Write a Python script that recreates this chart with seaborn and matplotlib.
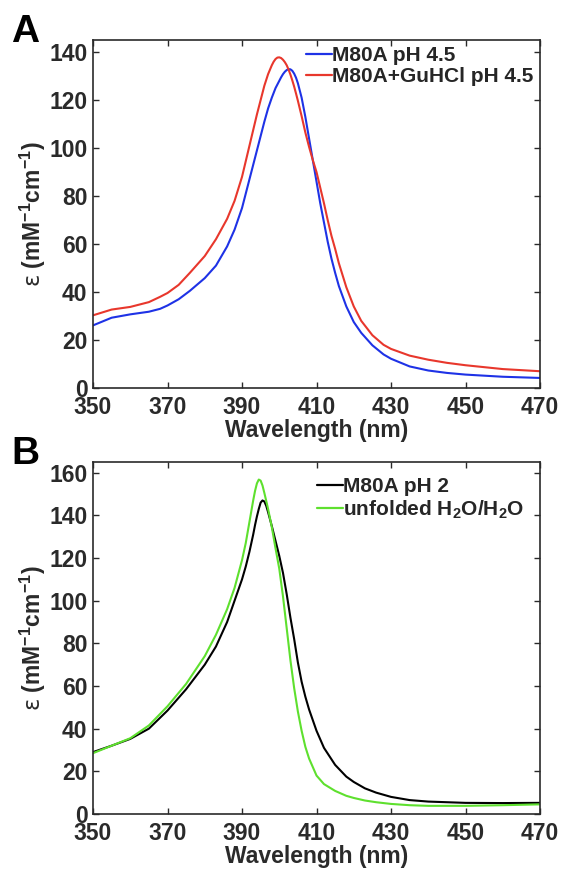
import numpy as np
import pandas as pd
import matplotlib
matplotlib.use("Agg")
import matplotlib.pyplot as plt
import seaborn as sns

# panel A: M80A at pH 4.5, with and without GuHCl
wl_a = [350, 355, 360, 365, 368, 370, 373, 376, 380, 383, 386, 388, 390, 392, 394,
        396, 397, 398, 398.5, 399, 399.5, 400, 400.5, 401, 401.5, 402, 402.5, 403,
        403.5, 404, 404.5, 405, 406, 407, 408, 409, 410, 411, 412, 413, 414, 415,
        416, 418, 420, 422, 425, 428, 430, 435, 440, 445, 450, 460, 470]
m80a_ph45 = [26.1, 29.3, 30.7, 31.8, 33.0, 34.4, 37.0, 40.5, 45.8, 51.0, 59.0, 66.0,
             75.0, 87.0, 99.0, 111.0, 116.5, 121.0, 123.0, 125.0, 126.5, 128.0, 129.5,
             130.8, 131.8, 132.5, 132.9, 132.8, 132.2, 131.0, 129.3, 127.0, 121.0,
             113.0, 104.0, 95.0, 86.0, 77.0, 69.0, 61.0, 54.0, 48.0, 42.5, 34.0, 27.5,
             23.0, 17.8, 14.0, 12.2, 9.0, 7.3, 6.3, 5.6, 4.7, 4.2]
m80a_guhcl = [30.3, 32.7, 33.8, 35.8, 38.0, 39.6, 43.0, 48.0, 55.0, 62.0, 70.5, 78.0,
              88.0, 101.0, 114.0, 126.0, 130.8, 134.5, 136.0, 137.1, 137.7, 137.8,
              137.5, 136.8, 135.8, 134.5, 132.7, 130.6, 128.2, 125.6, 122.7, 119.7,
              113.3, 106.5, 100.5, 95.0, 90.0, 83.5, 77.0, 70.0, 63.5, 58.0, 52.0,
              42.0, 34.0, 28.0, 22.0, 18.0, 16.3, 13.5, 11.8, 10.5, 9.5, 7.9, 7.0]

# panel B: M80A at pH 2 and unfolded protein
wl_b = [350, 355, 360, 365, 370, 375, 380, 383, 386, 388, 390, 391, 392, 393, 393.5,
        394, 394.5, 395, 395.5, 396, 396.5, 397, 398, 399, 400, 401, 402, 403, 404,
        405, 406, 407, 408, 410, 412, 415, 418, 420, 423, 426, 430, 435, 440, 450,
        460, 470]
m80a_ph2 = [29.0, 32.0, 35.2, 40.0, 48.5, 58.5, 70.0, 78.5, 90.0, 100.0, 110.0, 116.0,
            123.0, 131.0, 135.5, 139.5, 143.0, 146.0, 147.0, 146.5, 144.5, 141.5,
            135.0, 128.0, 121.0, 113.0, 103.0, 92.0, 82.0, 71.0, 62.0, 55.0, 49.0,
            39.0, 31.0, 23.0, 17.5, 15.0, 12.0, 10.0, 8.0, 6.5, 5.8, 5.2, 5.1, 5.2]
unfolded = [28.5, 32.0, 35.5, 41.5, 50.5, 61.0, 74.0, 84.0, 96.0, 106.0, 119.0, 127.0,
            137.0, 147.0, 151.5, 155.0, 156.8, 156.3, 154.0, 150.5, 146.8, 143.0,
            134.5, 124.5, 115.0, 102.0, 87.0, 72.0, 59.0, 48.0, 39.0, 31.5, 26.0,
            18.0, 14.0, 10.8, 8.5, 7.5, 6.3, 5.5, 4.7, 4.1, 3.8, 3.8, 4.1, 4.5]

xticks = [350, 370, 390, 410, 430, 450, 470]

sns.set_style("ticks")
plt.rcParams["font.family"] = ["Liberation Sans", "DejaVu Sans"]
plt.rcParams["font.weight"] = "bold"
plt.rcParams["mathtext.fontset"] = "custom"
plt.rcParams["mathtext.rm"] = "Liberation Sans:bold"
plt.rcParams["mathtext.bf"] = "Liberation Sans:bold"
plt.rcParams["mathtext.it"] = "DejaVu Sans:normal"

edge = "#2a2a2a"
ylab = r"$\varepsilon$ (mM$^{-1}$cm$^{-1}$)"

fig = plt.figure(figsize=(5.62, 8.71), dpi=100)
ax_a = fig.add_axes([0.1655, 0.5545, 0.7954, 0.3995])
ax_b = fig.add_axes([0.1655, 0.0655, 0.7954, 0.4040])

df_a = pd.DataFrame({"wl": wl_a * 2,
                     "eps": m80a_ph45 + m80a_guhcl,
                     "s": ["M80A pH 4.5"] * len(wl_a) + ["M80A+GuHCl pH 4.5"] * len(wl_a)})
df_b = pd.DataFrame({"wl": wl_b * 2,
                     "eps": m80a_ph2 + unfolded,
                     "s": ["M80A pH 2"] * len(wl_b) + [r"unfolded H$_2$O/H$_2$O"] * len(wl_b)})

sns.lineplot(data=df_a, x="wl", y="eps", hue="s", ax=ax_a, lw=1.5,
             palette=["#1e32e6", "#e8372c"], estimator=None, sort=True,
             solid_joinstyle="round")
sns.lineplot(data=df_b, x="wl", y="eps", hue="s", ax=ax_b, lw=1.5,
             palette=["#000000", "#5ee02e"], estimator=None, sort=True,
             solid_joinstyle="round")

for ax, ymax, yt, letter, anchor in [(ax_a, 145, np.arange(0, 141, 20), "A", (1.0, 1.0)),
                                     (ax_b, 165, np.arange(0, 161, 20), "B", (0.978, 0.975))]:
    ax.set_xlim(350, 470)
    ax.set_ylim(0, ymax)
    ax.set_xticks(xticks)
    ax.set_yticks(yt)
    ax.tick_params(direction="in", top=True, right=True, length=4, width=1,
                   labelsize=16.5, colors=edge)
    ax.tick_params(axis="x", pad=6)
    ax.tick_params(axis="y", pad=4)
    for lab in ax.get_xticklabels() + ax.get_yticklabels():
        lab.set_fontweight("bold")
    for sp in ax.spines.values():
        sp.set_visible(True)
        sp.set_color(edge)
        sp.set_linewidth(1.2)
    ax.set_xlabel("Wavelength (nm)", fontsize=16.5, fontweight="bold", color=edge, labelpad=0)
    ax.set_ylabel(ylab, fontsize=16.5, fontweight="bold", color=edge, labelpad=1)
    leg = ax.legend(loc="upper right", frameon=False, fontsize=15, handlelength=1.25,
                    handletextpad=0.0, labelspacing=0.1, borderaxespad=0.0,
                    borderpad=0.3, bbox_to_anchor=anchor)
    for line in leg.get_lines():
        line.set_linewidth(1.6)
    for t in leg.get_texts():
        t.set_fontweight("bold")
    ax.text(-0.183, 1.075, letter, transform=ax.transAxes, fontsize=28,
            fontweight="bold", color="black", va="top", ha="left")

fig.savefig("out.png", dpi=100)
